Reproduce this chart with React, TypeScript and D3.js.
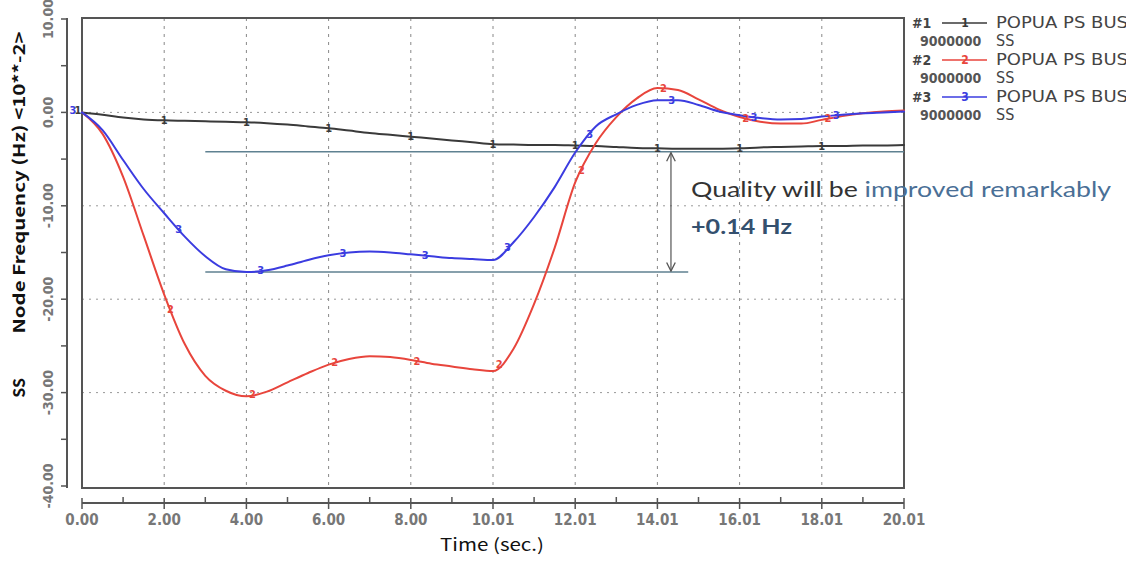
import React from 'react'
import * as d3 from 'd3'

// time samples (sec.)
const times = [
  0, 0.5, 1, 1.5, 2, 2.5, 3, 3.5, 4, 4.5, 5, 5.5, 6, 6.5, 7, 7.5, 8, 8.5, 9, 9.5, 10,
  10.5, 11, 11.5, 12, 12.5, 13, 13.5, 14, 14.5, 15, 15.5, 16, 16.5, 17, 17.5, 18, 18.5, 19, 19.5, 20
]

// node frequency, units of 10**-2 Hz
const bus1 = [
  0, -0.25, -0.55, -0.75, -0.85, -0.9, -0.95, -1.0, -1.05, -1.15, -1.3, -1.5, -1.7, -1.95, -2.2, -2.4, -2.6, -2.8, -3.0, -3.2, -3.4,
  -3.45, -3.5, -3.5, -3.55, -3.6, -3.7, -3.8, -3.85, -3.9, -3.9, -3.9, -3.85, -3.75, -3.7, -3.65, -3.6, -3.6, -3.55, -3.55, -3.5
]
const bus2 = [
  0, -2.3, -6.9, -13.2, -19.5, -24.8, -28.2, -29.8, -30.4, -29.9, -28.9, -27.9, -27.0, -26.4, -26.1, -26.2, -26.5, -26.9, -27.2, -27.5, -27.7,
  -25.3, -20.5, -14.5, -7.5, -3.3, -0.5, 1.5, 2.6, 2.4, 1.4, 0.3, -0.5, -1.0, -1.2, -1.2, -0.8, -0.4, -0.1, 0.1, 0.2
]
const bus3 = [
  0, -1.9, -5.1, -8.2, -10.8, -13.3, -15.4, -16.8, -17.1, -16.9, -16.4, -15.8, -15.3, -15.0, -14.9, -15.0, -15.2, -15.4, -15.6, -15.7, -15.8,
  -13.9, -11.2, -8.0, -4.3, -1.5, -0.2, 0.8, 1.3, 1.3, 0.8, 0.1, -0.3, -0.6, -0.75, -0.7, -0.45, -0.25, -0.1, 0.0, 0.1
]

const xTicks = [0, 2, 4, 6, 8, 10, 12, 14, 16, 18, 20]
const xTickLabels = ['0.00', '2.00', '4.00', '6.00', '8.00', '10.01', '12.01', '14.01', '16.01', '18.01', '20.01']
const yTicks = [10, 0, -10, -20, -30, -40]
const yTickLabels = ['10.00', '0.00', '-10.00', '-20.00', '-30.00', '-40.00']

const seriesNames = ['#1', '#2', '#3']
const seriesLabels = ['POPUA PS BUS', 'POPUA PS BUS', 'POPUA PS BUS']
const seriesColors = ['#3a3a3a', '#e8453c', '#3b3ce0']
const markerOffsets = [0, 0.15, 0.35]

// annotation: before / after levels
const refUpper = -4.2
const refLower = -17.1
const refStart = 3
const refLowerEnd = 14.75
const arrowTime = 14.33

const W = 1126
const H = 568
const narrow = "'Liberation Sans Narrow', 'DejaVu Sans Condensed', 'Roboto Condensed', sans-serif"

const App = () => {
  const x = d3.scaleLinear().domain([0, 20]).range([82, 904])
  const y = d3.scaleLinear().domain([10, -40]).range([19, 486])

  const series = [bus1, bus2, bus3].map(vals => times.map((t, i) => ({ t, v: vals[i] })))

  const line = d3
    .line<{ t: number; v: number }>()
    .x(d => x(d.t))
    .y(d => y(d.v))
    .curve(d3.curveMonotoneX)

  const interp = (vals: number[], t: number) => {
    const i = Math.min(times.length - 2, Math.max(0, d3.bisectRight(times, t) - 1))
    const f = (t - times[i]) / (times[i + 1] - times[i])
    return vals[i] + (vals[i + 1] - vals[i]) * f
  }

  const markerTimes = d3.range(2, 19, 2)
  const plotTop = y(10) - 1
  const plotBottom = y(-40) + 2
  const axisY = 503
  const axisX = 67

  return (
    <svg
      width={W}
      height={H}
      viewBox={`0 0 ${W} ${H}`}
      style={{ position: 'absolute', left: 0, top: 0, background: '#fff' }}
    >
      {/* grid */}
      {xTicks.slice(1, -1).map(t => (
        <line key={'gx' + t} x1={x(t)} x2={x(t)} y1={plotTop} y2={plotBottom}
          stroke="#888" strokeWidth={1} strokeDasharray="3,5" />
      ))}
      {yTicks.slice(1, -1).map(v => (
        <line key={'gy' + v} x1={x(0)} x2={x(20)} y1={y(v)} y2={y(v)}
          stroke="#999" strokeWidth={1} strokeDasharray="2,5" />
      ))}

      {/* plot frame */}
      <rect x={x(0)} y={plotTop} width={x(20) - x(0)} height={plotBottom - plotTop}
        fill="none" stroke="#555" strokeWidth={2} />

      {/* y axis */}
      <line x1={axisX} x2={axisX} y1={plotTop} y2={plotBottom} stroke="#555" strokeWidth={2} />
      {d3.range(10, -41, -5).map(v => (
        <line key={'yt' + v} x1={axisX - 6} x2={axisX} y1={y(v)} y2={y(v)} stroke="#555" strokeWidth={1.5} />
      ))}
      {yTicks.map((v, i) => (
        <text key={'yl' + v} transform={`translate(${axisX - 14},${y(v)}) rotate(-90)`}
          textAnchor="middle" fontFamily={narrow} fontSize={14} fontWeight="bold" fill="#777">
          {yTickLabels[i]}
        </text>
      ))}
      <text transform={`translate(25,${y(-7.5)}) rotate(-90)`} textAnchor="middle"
        fontFamily="'Noto Sans CJK JP', sans-serif" fontSize={16} fontWeight="bold" fill="#111"
        textLength={302} lengthAdjust="spacingAndGlyphs">
        Node Frequency (Hz) &lt;10**-2&gt;
      </text>
      <text transform={`translate(25,${y(-29.5)}) rotate(-90)`} textAnchor="middle"
        fontFamily="'Noto Sans CJK JP', sans-serif" fontSize={16} fontWeight="bold" fill="#111">
        SS
      </text>

      {/* x axis */}
      <line x1={x(0)} x2={x(20)} y1={axisY} y2={axisY} stroke="#555" strokeWidth={2} />
      {d3.range(0, 21, 1).map(t => (
        <line key={'xt' + t} x1={x(t)} x2={x(t)} y1={t % 2 === 0 ? axisY - 5 : axisY - 6}
          y2={t % 2 === 0 ? axisY + 6 : axisY} stroke="#555" strokeWidth={1.5} />
      ))}
      {xTickLabels.map((label, i) => (
        <text key={'xl' + i} x={x(xTicks[i])} y={axisY + 22} textAnchor="middle"
          fontFamily={narrow} fontSize={15} fontWeight="bold" fill="#777">
          {label}
        </text>
      ))}
      <text x={492} y={551} textAnchor="middle" fontFamily="'Noto Sans CJK JP', sans-serif"
        fontSize={17} fill="#111" textLength={104} lengthAdjust="spacingAndGlyphs">
        Time (sec.)
      </text>

      {/* reference levels */}
      <line x1={x(refStart)} x2={x(20)} y1={y(refUpper)} y2={y(refUpper)} stroke="#5f8191" strokeWidth={1.5} />
      <line x1={x(refStart)} x2={x(refLowerEnd)} y1={y(refLower)} y2={y(refLower)} stroke="#5f8191" strokeWidth={1.5} />

      {/* series */}
      {series.map((s, k) => (
        <path key={'s' + k} d={line(s) || ''} fill="none" stroke={seriesColors[k]}
          strokeWidth={2} strokeLinejoin="round" strokeLinecap="round" />
      ))}
      {[bus1, bus2, bus3].map((vals, k) =>
        markerTimes.map(t0 => {
          const t = t0 + markerOffsets[k]
          return (
            <text key={'m' + k + t0} x={x(t)} y={y(interp(vals, t))} textAnchor="middle"
              dominantBaseline="central" fontFamily={narrow} fontSize={11} fontWeight="bold"
              fill={seriesColors[k]}>
              {k + 1}
            </text>
          )
        })
      )}
      <text x={x(0) - 9} y={y(0) - 2} textAnchor="middle" dominantBaseline="central"
        fontFamily={narrow} fontSize={11} fontWeight="bold" fill={seriesColors[2]}>3</text>
      <text x={x(0) - 4} y={y(0) - 2} textAnchor="middle" dominantBaseline="central"
        fontFamily={narrow} fontSize={11} fontWeight="bold" fill={seriesColors[0]}>1</text>

      {/* improvement arrow */}
      <defs>
        <marker id="openArrow" viewBox="0 0 10 10" refX="9" refY="5" markerWidth="9" markerHeight="9"
          orient="auto-start-reverse">
          <path d="M1,1 L9,5 L1,9" fill="none" stroke="#555" strokeWidth={1.2} />
        </marker>
      </defs>
      <line x1={x(arrowTime)} x2={x(arrowTime)} y1={y(refUpper) + 1} y2={y(refLower) - 1}
        stroke="#555" strokeWidth={1.2} markerStart="url(#openArrow)" markerEnd="url(#openArrow)" />
      <text x={691} y={197} fontFamily="Lato, 'Open Sans', sans-serif" fontSize={22}
        textLength={420} lengthAdjust="spacingAndGlyphs">
        <tspan fill="#333">Quality will be </tspan>
        <tspan fill="#4a6f96">improved remarkably</tspan>
      </text>
      <text x={691} y={234} fontFamily="Lato, 'Open Sans', sans-serif" fontSize={21} fontWeight="bold" fill="#34506e"
        textLength={101} lengthAdjust="spacingAndGlyphs">
        +0.14 Hz
      </text>

      {/* legend */}
      {seriesNames.map((name, k) => {
        const by = 28 + k * 37
        return (
          <g key={'lg' + k} fontFamily={narrow} fill="#444">
            <text x={912} y={by} fontSize={14} fontWeight="bold">{name}</text>
            <line x1={942} x2={987} y1={by - 5} y2={by - 5} stroke={seriesColors[k]} strokeWidth={1.5} />
            <text x={965} y={by - 5} textAnchor="middle" dominantBaseline="central" fontSize={12}
              fontWeight="bold" fill={seriesColors[k]}>{k + 1}</text>
            <text x={996} y={by} fontSize={16} textLength={132} lengthAdjust="spacingAndGlyphs">
              {seriesLabels[k]}
            </text>
            <text x={920} y={by + 18} fontSize={14} fontWeight="bold" fill="#555">9000000</text>
            <text x={996} y={by + 18} fontSize={16}>SS</text>
          </g>
        )
      })}
    </svg>
  )
}

export default App
